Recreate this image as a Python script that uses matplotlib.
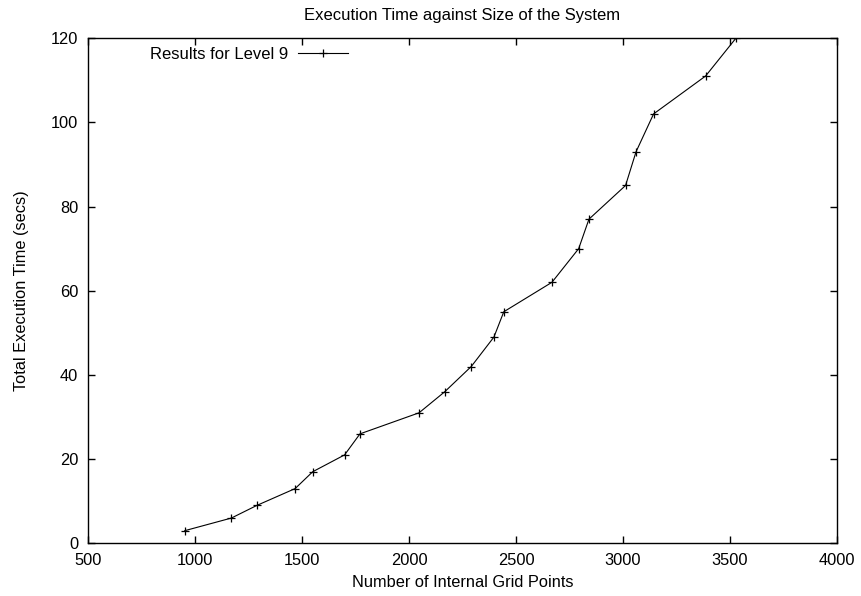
import matplotlib
matplotlib.use("Agg")
import matplotlib.pyplot as plt

plt.rcParams['font.family'] = ['Liberation Sans', 'DejaVu Sans']

# Datos
puntos_malla = [952, 1170, 1289, 1468, 1550, 1699, 1771, 2047, 2167, 2291,
                2397, 2443, 2668, 2793, 2841, 3012, 3061, 3143, 3386, 3528]
tiempo = [3, 6, 9, 13, 17, 21, 26, 31, 36, 42,
          49, 55, 62, 70, 77, 85, 93, 102, 111, 120]
xticks = [500, 1000, 1500, 2000, 2500, 3000, 3500, 4000]
yticks = [0, 20, 40, 60, 80, 100, 120]

fig = plt.figure(figsize=(8.61, 5.96), dpi=100)
ax = fig.add_axes([0.1022, 0.0884, 0.8699, 0.8476])

ax.plot(puntos_malla, tiempo, color='black', linewidth=0.8, marker='+',
        markersize=6, markeredgewidth=0.9, label='Results for Level 9')

ax.set_xlim(500, 4000)
ax.set_ylim(0, 120)
ax.set_xticks(xticks)
ax.set_yticks(yticks)
ax.tick_params(direction='in', top=True, right=True, length=5, width=1,
               labelsize=11.8, pad=7)
for s in ax.spines.values():
    s.set_linewidth(1)

ax.set_title('Execution Time against Size of the System', fontsize=12, pad=13)
ax.set_xlabel('Number of Internal Grid Points', fontsize=11.8, labelpad=5)
ax.set_ylabel('Total Execution Time (secs)', fontsize=11.8, labelpad=16)

ax.legend(loc='upper left', bbox_to_anchor=(0.063, 1.012), frameon=False,
          markerfirst=False, fontsize=12, handlelength=3.0, handletextpad=0.6)

fig.savefig('out.png', dpi=100)
